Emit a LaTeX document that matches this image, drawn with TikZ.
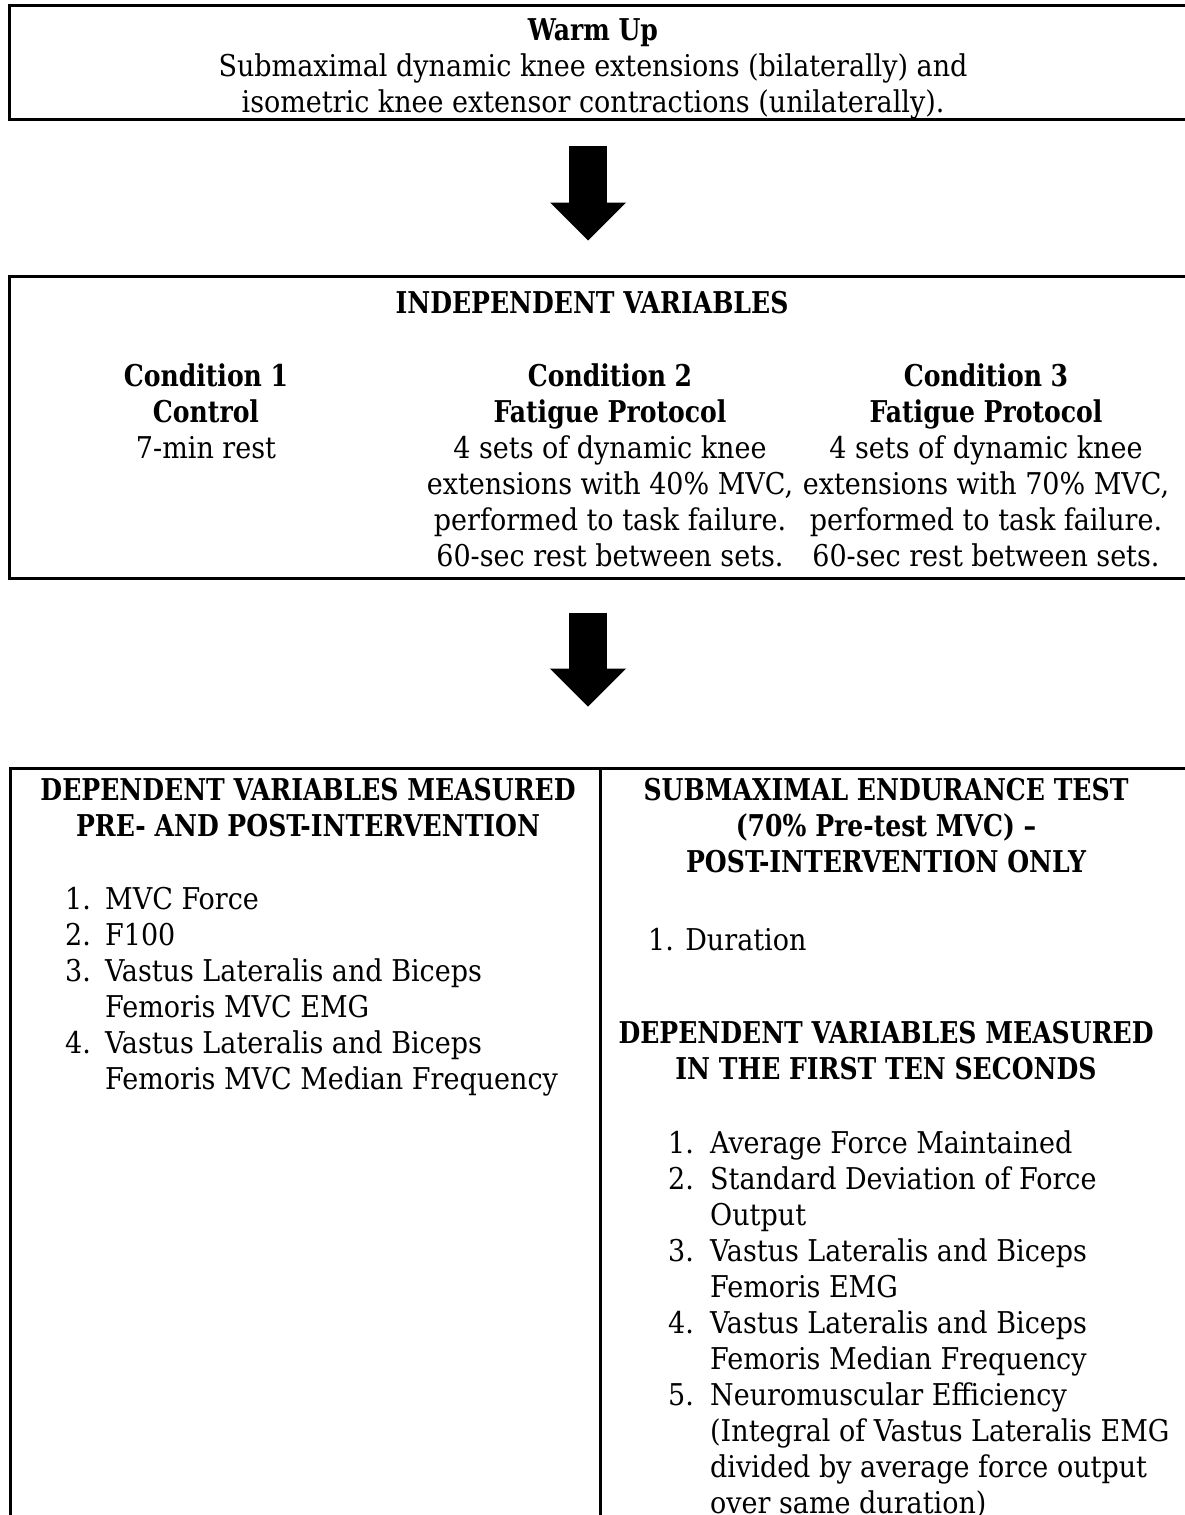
\documentclass[tikz,border=0pt]{standalone}
\usepackage{fontspec}
\IfFontExistsTF{DejaVu Serif Condensed}
  {\setmainfont{DejaVu Serif Condensed}[BoldFeatures={FakeStretch=0.93}]\newcommand\txtsize{\fontsize{30}{36}\selectfont}}
  {\setmainfont{Liberation Serif}\newcommand\txtsize{\fontsize{33}{36}\selectfont}}
\usetikzlibrary{arrows.meta}
\usetikzlibrary{calc}

\tikzset{
    panel/.style={draw, line width=3pt, rectangle, inner sep=0pt},
    txt/.style={align=center, font=\txtsize, inner sep=0pt},
    head/.style={txt, font=\txtsize\bfseries},
    lst/.style={anchor=west, font=\txtsize, inner sep=0pt},
    bigarrow/.style={line width=38pt, -{Triangle[length=38pt, width=76pt, line width=0pt]}},
}

\begin{document}
\begin{tikzpicture}[x=1pt, y=-1pt]
    \useasboundingbox (0,0) rectangle (1184,1515);

    % boxes
    \node[panel, minimum width=1186pt, minimum height=114pt] (warm) at (602,62) {};
    \node[panel, minimum width=1186pt, minimum height=302pt] (indep) at (602,427) {};
    \node[panel, minimum width=1185pt, minimum height=762pt] (dep) at (602.5,1149) {};
    \coordinate (divx) at (600,0);
    \draw[line width=3pt] (dep.north -| divx) -- (dep.south -| divx);

    % warm up
    \node[txt] (warmtxt) at (593,69) {\textbf{Warm Up}\\Submaximal dynamic knee extensions (bilaterally) and\\isometric knee extensor contractions (unilaterally).};

    % independent variables
    \node[head] (indephead) at (592,303) {INDEPENDENT VARIABLES};
    \node[txt] (cond1) at (206,411) {\textbf{Condition 1}\\\textbf{Control}\\7-min rest};
    \node[txt] (cond2) at (610,465) {\textbf{Condition 2}\\\textbf{Fatigue Protocol}\\4 sets of dynamic knee\\extensions with 40\% MVC,\\performed to task failure.\\60-sec rest between sets.};
    \node[txt] (cond3) at (986,465) {\textbf{Condition 3}\\\textbf{Fatigue Protocol}\\4 sets of dynamic knee\\extensions with 70\% MVC,\\performed to task failure.\\60-sec rest between sets.};

    % dependent variables
    \node[head] (dephead) at (308,808) {DEPENDENT VARIABLES MEASURED\\PRE- AND POST-INTERVENTION};
    \node[lst] (deplist) at (65,992) {\begin{tabular}{@{}p{40pt}@{}l@{}}
        1.&MVC Force\\
        2.&F100\\
        3.&Vastus Lateralis and Biceps\\
        &Femoris MVC EMG\\
        4.&Vastus Lateralis and Biceps\\
        &Femoris MVC Median Frequency
    \end{tabular}};

    \node[head] (subhead) at (886,826) {SUBMAXIMAL ENDURANCE TEST\\(70\% Pre-test MVC) --\\POST-INTERVENTION ONLY};
    \node[lst] (durlist) at (648,940) {1. Duration};
    \node[head] (tenhead) at (886,1051) {DEPENDENT VARIABLES MEASURED\\IN THE FIRST TEN SECONDS};
    \node[lst] (tenlist) at (668,1326) {\begin{tabular}{@{}p{42pt}@{}l@{}}
        1.&Average Force Maintained\\
        2.&Standard Deviation of Force\\
        &Output\\
        3.&Vastus Lateralis and Biceps\\
        &Femoris EMG\\
        4.&Vastus Lateralis and Biceps\\
        &Femoris Median Frequency\\
        5.&Neuromuscular Efficiency\\
        &(Integral of Vastus Lateralis EMG\\
        &divided by average force output\\
        &over same duration)
    \end{tabular}};

    % arrows
    \coordinate (ax) at (588,0);
    \draw[bigarrow, shorten <=25pt, shorten >=34pt] (warm.south -| ax) -- (indep.north -| ax);
    \draw[bigarrow, shorten <=33pt, shorten >=60pt] (indep.south -| ax) -- (dep.north -| ax);
\end{tikzpicture}
\end{document}
